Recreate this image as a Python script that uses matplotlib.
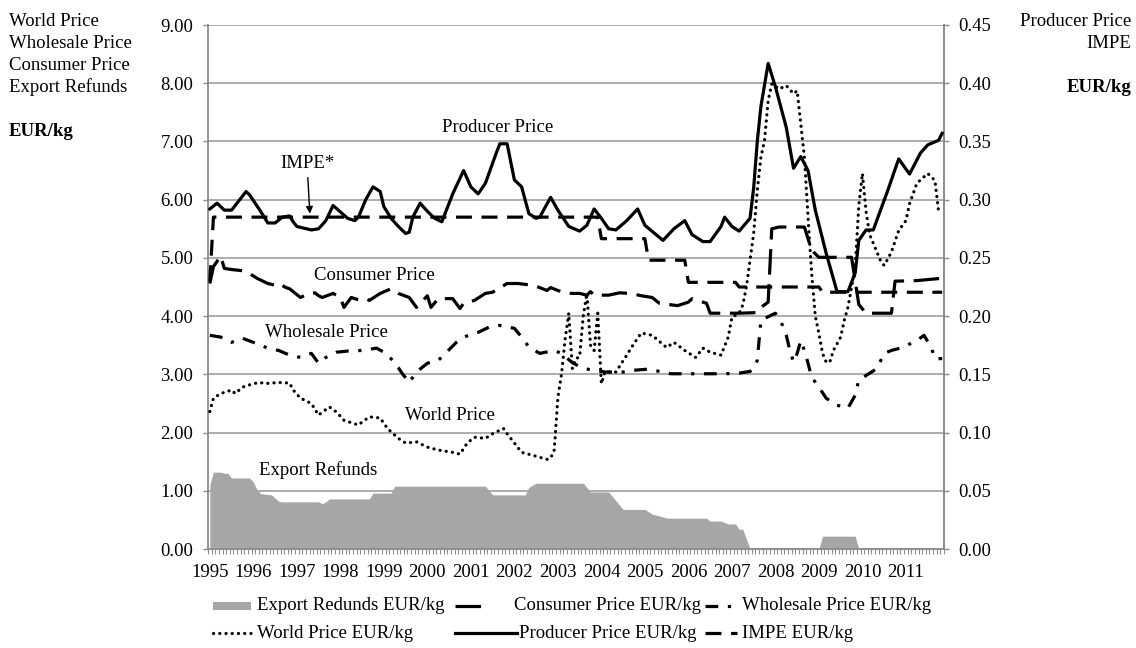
# -*- coding: utf-8 -*-
"""
Precios de la leche en polvo (EUR/kg) 1995-2011: mundial, mayorista,
consumidor, restituciones a la exportacion (eje izq.) y precio al
productor + IMPE (eje der.). Datos mensuales leidos del grafico original.
"""
import numpy as np
import matplotlib
matplotlib.use('Agg')
import matplotlib.pyplot as plt
from matplotlib.lines import Line2D
from matplotlib.patches import Rectangle

# =============================================================================
# 1. Datos (mes 0 = enero 1995, ultimo mes = 202)
# =============================================================================
ANIOS = [str(a) for a in range(1995, 2012)]
N_MESES = 203

# Export refunds (area gris), eje izquierdo
export_mes = [0, 1, 3, 4, 5, 6, 11, 12, 13, 14, 17, 19, 20, 30, 31, 32, 33, 44,
              45, 50, 51, 76, 78, 87, 88, 90, 103, 105, 110, 114, 120, 122, 125,
              126, 137, 138, 141, 143, 145, 146, 147, 149, 168, 169, 178, 179, 202]
export_val = [1.10, 1.32, 1.32, 1.30, 1.30, 1.22, 1.22, 1.15, 1.02, 0.95, 0.93,
              0.82, 0.81, 0.81, 0.78, 0.81, 0.86, 0.86, 0.96, 0.96, 1.08, 1.08,
              0.93, 0.93, 1.06, 1.13, 1.13, 0.98, 0.98, 0.68, 0.68, 0.60, 0.55,
              0.53, 0.53, 0.48, 0.48, 0.43, 0.43, 0.34, 0.34, 0.00, 0.00, 0.22,
              0.22, 0.00, 0.00]

# World price (punteado), eje izquierdo
world_mes = [0, 1, 3, 6, 7, 9, 12, 14, 15, 19, 22, 23, 25, 28, 30, 31, 33, 35,
             37, 41, 42, 44, 47, 49, 52, 54, 57, 60, 63, 67, 69, 71, 73, 76, 78,
             81, 82, 84, 86, 89, 93, 94, 95, 96, 97, 98, 99, 100, 101, 102, 103,
             104, 105, 106, 107, 108, 109, 112, 115, 117, 119, 122, 126, 128,
             131, 134, 136, 138, 141, 143, 144, 146, 147, 148, 150, 151, 152,
             153, 154, 155, 157, 159, 161, 162, 163, 164, 165, 166, 167, 168,
             169, 170, 171, 172, 174, 175, 176, 178, 179, 180, 181, 182, 183,
             185, 186, 188, 190, 192, 193, 195, 198, 200, 201]
world_val = [2.36, 2.59, 2.67, 2.73, 2.67, 2.78, 2.84, 2.86, 2.84, 2.86, 2.85,
             2.73, 2.59, 2.50, 2.30, 2.35, 2.44, 2.35, 2.21, 2.13, 2.18, 2.27,
             2.25, 2.07, 1.90, 1.82, 1.84, 1.75, 1.70, 1.66, 1.63, 1.82, 1.92,
             1.90, 1.98, 2.07, 1.98, 1.82, 1.66, 1.61, 1.54, 1.56, 1.70, 2.60,
             3.00, 3.60, 4.05, 3.10, 3.27, 3.30, 4.00, 4.39, 3.50, 3.41, 4.05,
             2.84, 3.04, 3.04, 3.33, 3.53, 3.71, 3.67, 3.46, 3.55, 3.41, 3.29,
             3.45, 3.38, 3.33, 3.64, 3.98, 4.05, 4.19, 4.50, 5.42, 6.16, 6.73,
             7.02, 7.70, 7.99, 7.90, 7.96, 7.82, 7.87, 7.30, 6.73, 5.70, 4.73,
             4.00, 3.70, 3.36, 3.21, 3.21, 3.41, 3.64, 3.93, 4.15, 4.84, 5.90,
             6.45, 5.80, 5.40, 5.25, 4.95, 4.87, 5.10, 5.47, 5.64, 5.93, 6.28,
             6.45, 6.33, 5.80]

# Wholesale price (raya-punto), eje izquierdo
wholesale_mes = [0, 3, 6, 9, 12, 16, 19, 22, 25, 28, 30, 32, 35, 38, 42, 46, 48,
                 51, 53, 55, 57, 60, 63, 65, 68, 70, 74, 77, 80, 84, 86, 88, 91,
                 95, 97, 100, 103, 106, 109, 114, 117, 121, 124, 127, 131, 135,
                 138, 142, 146, 149, 150, 151, 152, 156, 158, 159, 160, 161, 162,
                 163, 164, 165, 166, 168, 170, 173, 176, 178, 179, 181, 184, 186,
                 188, 191, 195, 197, 199, 200, 202]
wholesale_val = [3.67, 3.64, 3.55, 3.62, 3.55, 3.45, 3.41, 3.33, 3.29, 3.36,
                 3.19, 3.29, 3.38, 3.40, 3.41, 3.45, 3.38, 3.21, 3.02, 2.86,
                 3.04, 3.19, 3.24, 3.36, 3.55, 3.64, 3.72, 3.81, 3.84, 3.79,
                 3.64, 3.47, 3.36, 3.41, 3.36, 3.20, 3.10, 3.07, 3.04, 3.04,
                 3.07, 3.09, 3.05, 3.01, 3.01, 3.01, 3.01, 3.01, 3.02, 3.05,
                 3.10, 3.24, 3.93, 4.05, 3.84, 3.67, 3.41, 3.21, 3.36, 3.58,
                 3.41, 3.19, 2.95, 2.78, 2.59, 2.47, 2.42, 2.64, 2.90, 2.98,
                 3.10, 3.36, 3.41, 3.46, 3.58, 3.67, 3.46, 3.27, 3.27]

# Consumer price (raya larga), eje izquierdo
consumer_mes = [0, 1, 3, 4, 6, 9, 11, 13, 16, 18, 19, 21, 22, 25, 27, 29, 30, 31,
                34, 36, 37, 39, 41, 43, 44, 47, 50, 52, 55, 57, 60, 61, 63, 67,
                69, 70, 73, 76, 78, 82, 85, 89, 91, 93, 94, 96, 99, 102, 104, 105,
                106, 110, 113, 116, 119, 122, 124, 129, 132, 133, 137, 138, 141,
                146, 151, 152, 154, 155, 157, 164, 166, 168, 177, 179, 181, 188,
                189, 195, 202]
consumer_val = [4.56, 4.85, 5.03, 4.82, 4.80, 4.78, 4.73, 4.65, 4.56, 4.53,
                4.56, 4.49, 4.47, 4.32, 4.38, 4.40, 4.35, 4.32, 4.39, 4.32,
                4.15, 4.32, 4.28, 4.30, 4.27, 4.39, 4.47, 4.39, 4.32, 4.15,
                4.35, 4.15, 4.30, 4.30, 4.13, 4.22, 4.27, 4.39, 4.41, 4.56,
                4.56, 4.53, 4.49, 4.44, 4.49, 4.44, 4.39, 4.39, 4.36, 4.42,
                4.36, 4.36, 4.40, 4.39, 4.35, 4.32, 4.22, 4.18, 4.24, 4.30,
                4.22, 4.05, 4.05, 4.05, 4.06, 4.15, 4.24, 5.50, 5.53, 5.53,
                5.13, 5.01, 5.01, 4.20, 4.05, 4.05, 4.60, 4.61, 4.65]

# Producer price (continua), eje derecho
producer_mes = [0, 2, 4, 6, 10, 11, 14, 16, 18, 20, 22, 23, 24, 28, 30, 32, 34,
                38, 40, 41, 43, 45, 47, 48, 50, 52, 54, 55, 56, 58, 60, 62, 64,
                67, 70, 72, 74, 76, 79, 80, 82, 84, 86, 88, 90, 91, 94, 96, 99,
                102, 104, 106, 108, 110, 112, 115, 118, 120, 125, 128, 131, 133,
                136, 138, 141, 142, 144, 146, 149, 150, 151, 152, 154, 156, 159,
                161, 163, 165, 167, 170, 173, 176, 178, 179, 181, 183, 187, 190,
                193, 196, 198, 201, 202]
producer_val = [0.292, 0.297, 0.291, 0.291, 0.307, 0.304, 0.290, 0.280, 0.280,
                0.285, 0.286, 0.281, 0.277, 0.274, 0.275, 0.282, 0.295, 0.284,
                0.282, 0.285, 0.300, 0.311, 0.307, 0.294, 0.284, 0.277, 0.271,
                0.272, 0.285, 0.297, 0.290, 0.284, 0.281, 0.305, 0.325, 0.311,
                0.305, 0.314, 0.340, 0.348, 0.348, 0.317, 0.311, 0.288, 0.284,
                0.285, 0.302, 0.291, 0.277, 0.273, 0.278, 0.292, 0.284, 0.275,
                0.274, 0.282, 0.292, 0.278, 0.265, 0.275, 0.282, 0.270, 0.264,
                0.264, 0.277, 0.285, 0.277, 0.273, 0.284, 0.310, 0.350, 0.380,
                0.417, 0.397, 0.362, 0.327, 0.337, 0.325, 0.291, 0.254, 0.221,
                0.221, 0.237, 0.265, 0.274, 0.274, 0.308, 0.335, 0.322, 0.340,
                0.347, 0.351, 0.357]

# IMPE (raya), eje derecho
impe_mes = [0, 1, 107, 108, 120, 121, 131, 132, 145, 146, 168, 169, 202]
impe_val = [0.230, 0.285, 0.285, 0.2665, 0.2665, 0.248, 0.248, 0.229, 0.229,
            0.225, 0.225, 0.2205, 0.2205]

# =============================================================================
# 2. Estilo general
# =============================================================================
plt.rcParams['font.family'] = ['Liberation Serif', 'DejaVu Serif']
FS = 13.5
GRIS_EJE = '#8c8c8c'
GRIS_GRID = '#a6a6a6'
GRIS_AREA = '#a6a6a6'
LW = 2.3

W, H = 1136, 648
fig = plt.figure(figsize=(W / 100, H / 100), dpi=100)

def px(x, y):
    """pixeles (origen arriba-izq.) -> fraccion de figura"""
    return x / W, 1 - y / H

# area de ploteo: x 208..944, y 25..549 px
ax = fig.add_axes([208 / W, 1 - 549 / H, (944 - 208) / W, (549 - 25) / H])
ax2 = ax.twinx()

# =============================================================================
# 3. Series
# =============================================================================
ax.fill_between(export_mes, 0, export_val, color=GRIS_AREA, lw=0, zorder=2)
ax.plot(world_mes, world_val, color='black', lw=LW,
        linestyle=(0, (0.05, 1.9)), dash_capstyle='round', zorder=3)
ax.plot(wholesale_mes, wholesale_val, color='black', lw=LW,
        linestyle=(0, (4, 3, 1, 3)), zorder=3)
ax.plot(consumer_mes, consumer_val, color='black', lw=LW,
        linestyle=(0, (8, 3)), zorder=3)

ax2.plot(producer_mes, producer_val, color='black', lw=LW, zorder=3)
ax2.plot(impe_mes, impe_val, color='black', lw=LW,
         linestyle=(0, (5, 3)), zorder=3)

# =============================================================================
# 4. Ejes, grilla y ticks
# =============================================================================
ax.set_xlim(-0.5, N_MESES - 0.5)
ax.set_ylim(0, 9)
ax2.set_ylim(0, 0.45)

ax.set_yticks(np.arange(0, 10, 1))
ax.set_yticklabels([f'{v:.2f}' for v in np.arange(0, 10, 1)])
ax2.set_yticks(np.arange(0, 0.46, 0.05))
ax2.set_yticklabels([f'{v:.2f}' for v in np.arange(0, 0.46, 0.05)])

ax.set_xticks(np.arange(0, N_MESES, 12))
ax.set_xticklabels(ANIOS)
ax.set_xticks(np.arange(-0.5, N_MESES, 1), minor=True)

ax.yaxis.grid(True, color=GRIS_GRID, lw=1.3)
ax.set_axisbelow(True)

ax.tick_params(axis='y', direction='out', length=3.6, width=1, color=GRIS_EJE,
               labelsize=FS, pad=7)
ax2.tick_params(axis='y', direction='out', length=3.6, width=1, color=GRIS_EJE,
                labelsize=FS, pad=7)
ax.tick_params(axis='x', which='major', length=0, labelsize=FS, pad=11)
ax.tick_params(axis='x', which='minor', direction='out', length=3.6,
               width=0.8, color=GRIS_EJE)

for a in (ax, ax2):
    a.spines['top'].set_visible(False)
    for s in ('left', 'right', 'bottom'):
        a.spines[s].set_color(GRIS_EJE)
        a.spines[s].set_linewidth(1.3)
ax2.spines['left'].set_visible(False)
ax2.spines['bottom'].set_visible(False)

# =============================================================================
# 5. Rotulos dentro del grafico
# =============================================================================
ax.text(79.5, 7.24, 'Producer Price', fontsize=FS, ha='center', va='center')
ax.text(45.3, 4.70, 'Consumer Price', fontsize=FS, ha='center', va='center')
ax.text(32.3, 3.72, 'Wholesale Price', fontsize=FS, ha='center', va='center')
ax.text(66.2, 2.30, 'World Price', fontsize=FS, ha='center', va='center')
ax.text(29.8, 1.36, 'Export Refunds', fontsize=FS, ha='center', va='center')
ax.annotate('IMPE*', xy=(27.6, 5.76), xytext=(26.8, 6.62), fontsize=FS,
            ha='center', va='center',
            arrowprops=dict(arrowstyle='-|>', color='black', lw=1,
                            mutation_scale=10, shrinkA=2, shrinkB=0))

# titulos de eje (texto suelto a izquierda y derecha)
for y, t in zip([21, 43, 65, 87],
                ['World Price', 'Wholesale Price', 'Consumer Price', 'Export Refunds']):
    fig.text(*px(9, y), t, fontsize=FS, ha='left', va='center')
fig.text(*px(9, 131), 'EUR/kg', fontsize=FS, fontweight='bold', ha='left', va='center')
fig.text(*px(1131, 21), 'Producer Price', fontsize=FS, ha='right', va='center')
fig.text(*px(1131, 43), 'IMPE', fontsize=FS, ha='right', va='center')
fig.text(*px(1131, 87), 'EUR/kg', fontsize=FS, fontweight='bold', ha='right', va='center')

# =============================================================================
# 6. Leyenda (armada a mano para respetar la disposicion original)
# =============================================================================
x0, y0 = px(213, 610)
x1, y1 = px(251, 602)
fig.add_artist(Rectangle((x0, y0), x1 - x0, y1 - y0, transform=fig.transFigure,
                         color=GRIS_AREA, lw=0))

muestras = [
    (455, 482, 606, (0, (8, 3)), 'butt'),          # consumer
    (705, 737, 606, (0, (4, 3, 1, 3)), 'butt'),    # wholesale
    (213, 251, 633, (0, (0.05, 1.9)), 'round'),    # world
    (455, 517, 633, '-', 'butt'),                  # producer
    (705, 737, 633, (0, (5, 3)), 'butt'),          # impe
]
for xa, xb, y, ls, cap in muestras:
    (fa, fy), (fb, _) = px(xa, y), px(xb, y)
    fig.add_artist(Line2D([fa, fb], [fy, fy], transform=fig.transFigure,
                          color='black', lw=LW, linestyle=ls,
                          dash_capstyle=cap))

textos_leyenda = [
    (257, 606, 'Export Redunds EUR/kg'),
    (514, 606, 'Consumer Price EUR/kg'),
    (742, 606, 'Wholesale Price EUR/kg'),
    (257, 633, 'World Price EUR/kg'),
    (519, 633, 'Producer Price EUR/kg'),
    (742, 633, 'IMPE EUR/kg'),
]
for x, y, t in textos_leyenda:
    fig.text(*px(x, y), t, fontsize=FS, ha='left', va='center')

fig.savefig('out.png', dpi=100)
